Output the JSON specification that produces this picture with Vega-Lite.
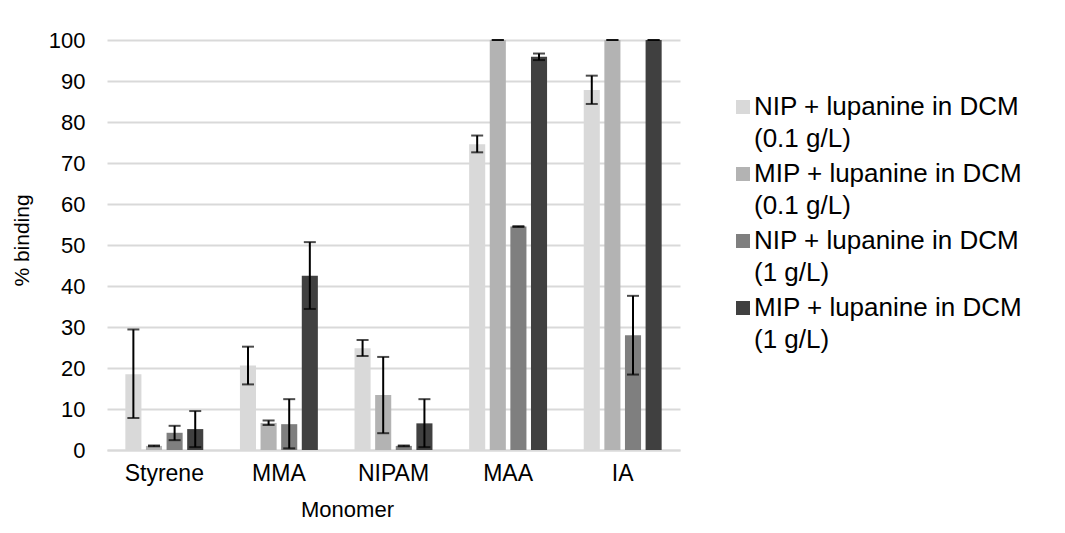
{
  "$schema": "https://vega.github.io/schema/vega-lite/v6.json",
  "width": 573,
  "height": 410,
  "autosize": {"type": "none"},
  "padding": {"left": 107, "top": 40, "right": 385, "bottom": 83},
  "background": "white",
  "config": {
    "font": "Liberation Sans",
    "view": {"stroke": null},
    "style": {"guide-label": {"lineHeight": 32}}
  },
  "data": {
    "values": [
      {"Monomer": "Styrene", "Series": "NIP + lupanine in DCM (0.1 g/L)", "value": 18.5, "lo": 7.8, "hi": 29.4},
      {"Monomer": "Styrene", "Series": "MIP + lupanine in DCM (0.1 g/L)", "value": 1.0, "lo": 0.9, "hi": 1.1},
      {"Monomer": "Styrene", "Series": "NIP + lupanine in DCM (1 g/L)", "value": 4.2, "lo": 2.4, "hi": 5.9},
      {"Monomer": "Styrene", "Series": "MIP + lupanine in DCM (1 g/L)", "value": 5.1, "lo": 0.7, "hi": 9.5},
      {"Monomer": "MMA", "Series": "NIP + lupanine in DCM (0.1 g/L)", "value": 20.6, "lo": 16.0, "hi": 25.2},
      {"Monomer": "MMA", "Series": "MIP + lupanine in DCM (0.1 g/L)", "value": 6.6, "lo": 6.1, "hi": 7.2},
      {"Monomer": "MMA", "Series": "NIP + lupanine in DCM (1 g/L)", "value": 6.3, "lo": 0.4, "hi": 12.4},
      {"Monomer": "MMA", "Series": "MIP + lupanine in DCM (1 g/L)", "value": 42.5, "lo": 34.4, "hi": 50.7},
      {"Monomer": "NIPAM", "Series": "NIP + lupanine in DCM (0.1 g/L)", "value": 24.8, "lo": 22.9, "hi": 26.8},
      {"Monomer": "NIPAM", "Series": "MIP + lupanine in DCM (0.1 g/L)", "value": 13.4, "lo": 4.1, "hi": 22.7},
      {"Monomer": "NIPAM", "Series": "NIP + lupanine in DCM (1 g/L)", "value": 1.0, "lo": 0.9, "hi": 1.1},
      {"Monomer": "NIPAM", "Series": "MIP + lupanine in DCM (1 g/L)", "value": 6.5, "lo": 0.7, "hi": 12.4},
      {"Monomer": "MAA", "Series": "NIP + lupanine in DCM (0.1 g/L)", "value": 74.6, "lo": 72.6, "hi": 76.7},
      {"Monomer": "MAA", "Series": "MIP + lupanine in DCM (0.1 g/L)", "value": 100, "lo": 100, "hi": 100},
      {"Monomer": "MAA", "Series": "NIP + lupanine in DCM (1 g/L)", "value": 54.5, "lo": 54.4, "hi": 54.6},
      {"Monomer": "MAA", "Series": "MIP + lupanine in DCM (1 g/L)", "value": 95.9, "lo": 95.1, "hi": 96.7},
      {"Monomer": "IA", "Series": "NIP + lupanine in DCM (0.1 g/L)", "value": 87.8, "lo": 84.4, "hi": 91.3},
      {"Monomer": "IA", "Series": "MIP + lupanine in DCM (0.1 g/L)", "value": 100, "lo": 100, "hi": 100},
      {"Monomer": "IA", "Series": "NIP + lupanine in DCM (1 g/L)", "value": 28.0, "lo": 18.4, "hi": 37.6},
      {"Monomer": "IA", "Series": "MIP + lupanine in DCM (1 g/L)", "value": 100, "lo": 100, "hi": 100}
    ]
  },
  "encoding": {
    "x": {
      "field": "Monomer",
      "type": "nominal",
      "sort": ["Styrene", "MMA", "NIPAM", "MAA", "IA"],
      "scale": {"paddingInner": 0.32, "paddingOuter": 0.16},
      "axis": {
        "title": "Monomer",
        "labelAngle": 0,
        "ticks": false,
        "domainColor": "#D9D9D9",
        "domainWidth": 2,
        "labelFontSize": 23,
        "labelColor": "#000000",
        "labelPadding": 12,
        "titleFontSize": 22,
        "titleFontWeight": "normal",
        "titleColor": "#000000",
        "titleX": 240,
        "titleY": 59,
        "titleBaseline": "middle"
      }
    },
    "xOffset": {
      "field": "Series",
      "type": "nominal",
      "sort": ["NIP + lupanine in DCM (0.1 g/L)", "MIP + lupanine in DCM (0.1 g/L)", "NIP + lupanine in DCM (1 g/L)", "MIP + lupanine in DCM (1 g/L)"],
      "scale": {"paddingInner": 0.22, "paddingOuter": 0}
    }
  },
  "layer": [
    {
      "mark": {"type": "bar"},
      "encoding": {
        "y": {
          "field": "value",
          "type": "quantitative",
          "scale": {"domain": [0, 100], "nice": false},
          "axis": {
            "title": "% binding",
            "values": [0, 10, 20, 30, 40, 50, 60, 70, 80, 90, 100],
            "domain": false,
            "ticks": false,
            "gridColor": "#D9D9D9",
            "gridWidth": 2,
            "labelFontSize": 22,
            "labelColor": "#000000",
            "labelPadding": 22,
            "titleFontSize": 21,
            "titleFontWeight": "normal",
            "titleColor": "#000000",
            "titleX": -85,
            "titleY": 200,
            "titleBaseline": "middle",
            "titleAlign": "center"
          }
        },
        "color": {
          "field": "Series",
          "type": "nominal",
          "scale": {
            "domain": ["NIP + lupanine in DCM (0.1 g/L)", "MIP + lupanine in DCM (0.1 g/L)", "NIP + lupanine in DCM (1 g/L)", "MIP + lupanine in DCM (1 g/L)"],
            "range": ["#D9D9D9", "#B3B3B3", "#7F7F7F", "#404040"]
          },
          "legend": {
            "title": null,
            "orient": "none",
            "legendX": 623,
            "legendY": 54,
            "symbolType": "square",
            "symbolSize": 196,
            "symbolStrokeWidth": 0,
            "symbolOpacity": 1,
            "labelFontSize": 26,
            "labelColor": "#000000",
            "labelOffset": -2,
            "labelLimit": 400,
            "labelBaseline": "middle",
            "rowPadding": 9,
            "labelExpr": "[slice(datum.label, 0, 21), slice(datum.label, 22)]",
            "encoding": {
              "labels": {"update": {"dy": {"value": 16}}}
            }
          }
        }
      }
    },
    {
      "mark": {"type": "rule", "color": "#000000", "strokeWidth": 2},
      "encoding": {
        "y": {"field": "lo", "type": "quantitative"},
        "y2": {"field": "hi"}
      }
    },
    {
      "mark": {"type": "tick", "color": "#000000", "thickness": 2, "size": 12},
      "encoding": {
        "y": {"field": "lo", "type": "quantitative"}
      }
    },
    {
      "mark": {"type": "tick", "color": "#000000", "thickness": 2, "size": 12},
      "encoding": {
        "y": {"field": "hi", "type": "quantitative"}
      }
    }
  ]
}
